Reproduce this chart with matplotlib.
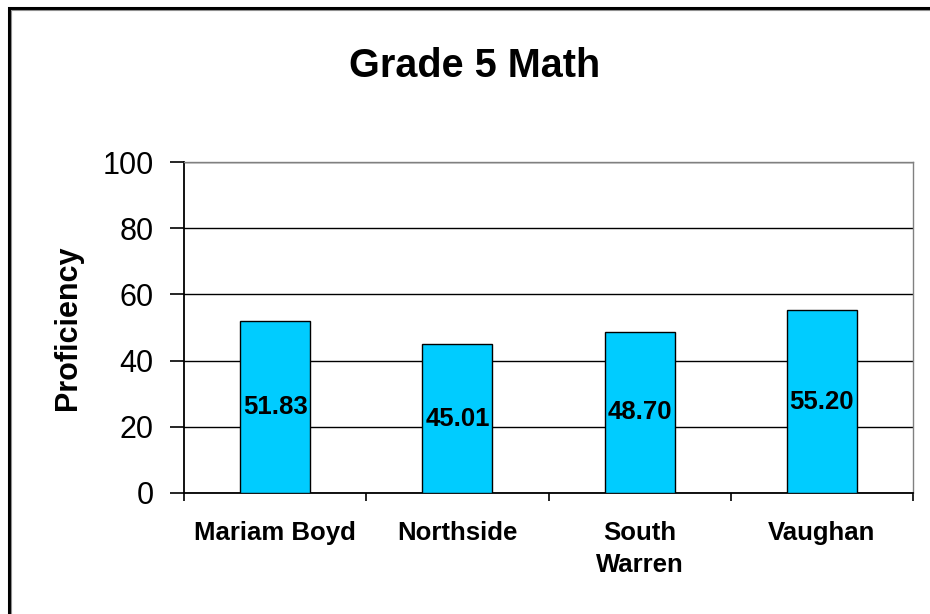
#!/usr/bin/env python3

import matplotlib
matplotlib.use("Agg")
import matplotlib.pyplot as plt
from matplotlib.patches import Rectangle

schools = ["Mariam Boyd", "Northside", "South\nWarren", "Vaughan"]
scores = [51.83, 45.01, 48.70, 55.20]
yticks = [0, 20, 40, 60, 80, 100]

plt.rcParams['font.family'] = ['Liberation Sans', 'DejaVu Sans']

W, H = 930, 614
fig = plt.figure(figsize=(W / 100, H / 100), dpi=100)

# outer chart-area border (only top and left visible in the crop)
fig.patches.append(Rectangle((9 / W, -0.1), 1.2, (H - 8) / H + 0.1,
                             transform=fig.transFigure, fill=False,
                             edgecolor="black", linewidth=2.2, zorder=0))
fig.patches.append(Rectangle((11 / W, -0.1), 1.2, (H - 10) / H + 0.1,
                             transform=fig.transFigure, fill=False,
                             edgecolor="#909090", linewidth=0.8, zorder=0))

ax = fig.add_axes([184 / W, 121 / H, 729 / W, 331 / H])

x = range(len(schools))
bars = ax.bar(x, scores, width=0.385, color="#00CCFF", edgecolor="black",
              linewidth=1.0, zorder=3)

for b, v in zip(bars, scores):
    ax.text(b.get_x() + b.get_width() / 2, v / 2, f"{v:.2f}",
            ha="center", va="center", fontsize=18.5, fontweight="bold",
            zorder=4)

ax.set_xlim(-0.5, len(schools) - 0.5)
ax.set_ylim(0, 100)
ax.set_yticks(yticks)
ax.yaxis.grid(True, color="black", linewidth=1.0, zorder=1)
ax.set_axisbelow(True)

ax.set_xticks(list(x))
ax.set_xticklabels(schools, fontsize=18.5, fontweight="bold", linespacing=1.45)
ax.set_xticks([i - 0.5 for i in range(len(schools) + 1)], minor=True)
ax.tick_params(axis="x", which="major", length=0, pad=20)
ax.tick_params(axis="x", which="minor", length=6, width=1.2, direction="out")
ax.tick_params(axis="y", length=10, width=1.2, direction="out", pad=12,
               labelsize=22)

for s in ("left", "bottom"):
    ax.spines[s].set_color("black")
    ax.spines[s].set_linewidth(1.3)
for s in ("top", "right"):
    ax.spines[s].set_color("#808080")
    ax.spines[s].set_linewidth(1.0)

ax.set_ylabel("Proficiency", fontsize=22, fontweight="bold", labelpad=14)
fig.text(475 / W, 1 - 66 / H, "Grade 5 Math", ha="center", va="center",
         fontsize=28.5, fontweight="bold")

fig.savefig("out.png", dpi=100)
